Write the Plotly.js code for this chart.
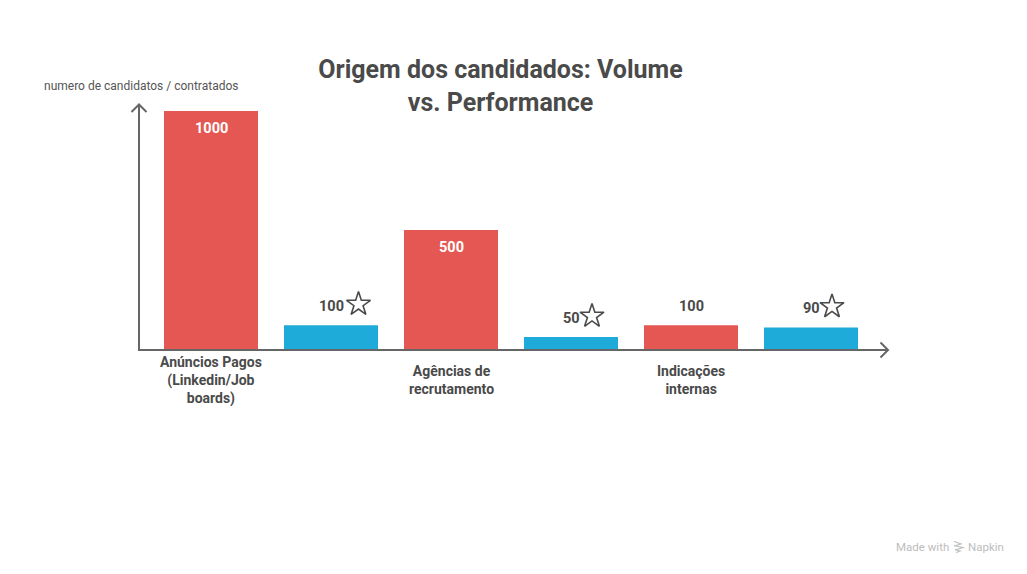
<!DOCTYPE html>
<html>
<head>
<meta charset="utf-8">
<script src="https://cdn.plot.ly/plotly-3.0.1.min.js"></script>
<style>html,body{margin:0;padding:0;background:#fff}#chart{width:1027px;height:574px}</style>
</head>
<body>
<div id="chart"></div>
<script>
const categories = ["Anúncios Pagos<br>(Linkedin/Job<br>boards)", "Agências de<br>recrutamento", "Indicações<br>internas"];
const candidatePositions = [0, 2, 4];
const hiredPositions = [1, 3, 5];
const candidates = [1000, 500, 100];
const hired = [100, 50, 90];
const titleText = "Origem dos candidados: Volume<br>vs. Performance";
const yLabel = "numero de candidatos / contratados";

const W = 1027, H = 574;
const M = {l: 140, r: 139, t: 104, b: 225};
const PW = W - M.l - M.r, PH = H - M.t - M.b;
const px = x => (x - M.l) / PW;
const py = y => (H - M.b - y) / PH;
const RED = "#E55753", BLUE = "#1EABDA", INK = "#4A4A4A", AXIS = "#666666";
const FONT = "Roboto, sans-serif";

const pathPx = pts => "M" + pts.map(p => px(p[0]) + "," + py(p[1])).join("L");
const lineShape = (pts, color, w) => ({type: "path", xref: "paper", yref: "paper", path: pathPx(pts),
  line: {color: color, width: w}, fillcolor: "rgba(0,0,0,0)"});

const shapes = [
  lineShape([[131.5, 112], [139, 104.5], [146.5, 112]], AXIS, 2),
  lineShape([[139, 104.5], [139, 112]], AXIS, 2),
  lineShape([[880.5, 342.5], [888, 350], [880.5, 357.5]], AXIS, 2),
  lineShape([[880, 350], [888, 350]], AXIS, 2),
  lineShape([[954, 541.5], [961, 544], [954, 546]], "#BDBDBD", 1.2),
  lineShape([[954, 545.5], [963, 547.5], [955, 550]], "#BDBDBD", 1.2),
  lineShape([[955, 549.5], [960, 551], [956, 552.5]], "#BDBDBD", 1.2)
];

const annotations = [];
candidatePositions.forEach((x, i) => annotations.push({
  x: x, y: 0, xref: "x", yref: "y", text: "<b>" + categories[i] + "</b>", showarrow: false,
  xanchor: "center", yanchor: "middle", yshift: -31, align: "center",
  font: {family: FONT, size: 14, color: INK}
}));
candidatePositions.forEach((x, i) => {
  const inside = candidates[i] >= 500;
  annotations.push({
    x: x, y: candidates[i], xref: "x", yref: "y", text: "<b>" + candidates[i] + "</b>", showarrow: false,
    xanchor: "center", yanchor: "middle", yshift: inside ? -17 : 19,
    font: {family: FONT, size: 14.5, color: inside ? "#FFFFFF" : INK}
  });
});
hiredPositions.forEach((x, i) => annotations.push({
  x: x, y: hired[i], xref: "x", yref: "y", text: "<b>" + hired[i] + "</b>", showarrow: false,
  xanchor: "center", yanchor: "middle", yshift: 19,
  font: {family: FONT, size: 14.5, color: INK}
}));
annotations.push({xref: "paper", yref: "paper", x: px(42), y: py(86), xanchor: "left", yanchor: "middle",
  text: yLabel, showarrow: false, font: {family: FONT, size: 12, color: "#555555"}});
annotations.push({xref: "paper", yref: "paper", x: px(894), y: py(546.5), xanchor: "left", yanchor: "middle",
  text: "Made with", showarrow: false, font: {family: FONT, size: 11.5, color: "#BDBDBD"}});
annotations.push({xref: "paper", yref: "paper", x: px(966), y: py(546.5), xanchor: "left", yanchor: "middle",
  text: "Napkin", showarrow: false, font: {family: FONT, size: 11.5, color: "#BDBDBD"}});

const starDx = [27.5 / 120, 21 / 120, 21 / 120];
const starLift = 21 / 0.238;

const data = [
  {type: "bar", x: candidatePositions, y: candidates, width: 94 / 120, marker: {color: RED, line: {width: 0}},
   name: "Candidatos", hoverinfo: "y"},
  {type: "bar", x: hiredPositions, y: hired, width: 94 / 120, marker: {color: BLUE, line: {width: 0}},
   name: "Contratados", hoverinfo: "y"},
  {type: "scatter", mode: "markers", x: hiredPositions.map((x, i) => x + starDx[i]), y: hired.map(v => v + starLift),
   marker: {symbol: "star-open", size: 18, color: INK, line: {color: INK, width: 1.6}}, hoverinfo: "skip", cliponaxis: false}
];

const layout = {
  width: W, height: H, autosize: false, showlegend: false, barmode: "overlay",
  paper_bgcolor: "#FFFFFF", plot_bgcolor: "#FFFFFF",
  margin: {l: M.l, r: M.r, t: M.t, b: M.b, pad: 0},
  title: {text: "<b>" + titleText + "</b>", x: 495 / W, xanchor: "center", xref: "paper", yref: "container",
          y: 1 - 78 / H, yanchor: "middle", font: {family: FONT, size: 25, color: INK}},
  xaxis: {range: [(M.l - 211) / 120, (W - M.r - 211) / 120], showgrid: false, zeroline: false, showticklabels: false,
          ticks: "", showline: true, linecolor: AXIS, linewidth: 2, fixedrange: true},
  yaxis: {range: [0, PH / 0.238], showgrid: false, zeroline: false, showticklabels: false,
          ticks: "", showline: true, linecolor: AXIS, linewidth: 2, fixedrange: true},
  shapes: shapes, annotations: annotations, font: {family: FONT}
};
layout.title.x = 495 / W;
Plotly.newPlot("chart", data, layout, {displayModeBar: false, responsive: false});
</script>
</body>
</html>
